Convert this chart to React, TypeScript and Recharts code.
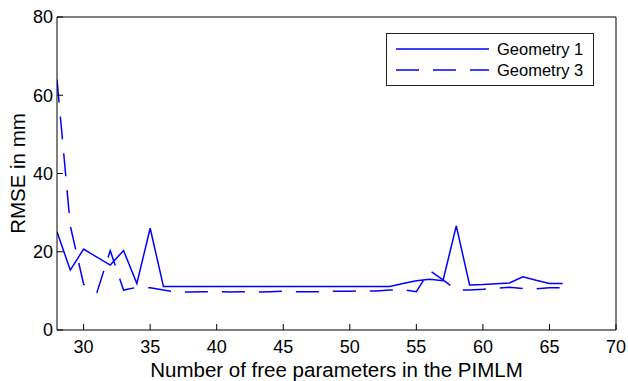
import { LineChart, Line, XAxis, YAxis, Legend } from 'recharts';

// number of free parameters (x) and RMSE in mm for each geometry
const params = [
  28, 29, 30, 31, 32, 33, 34, 35, 36, 37, 38, 39, 40, 41, 42, 43, 44, 45, 46, 47,
  48, 49, 50, 51, 52, 53, 54, 55, 56, 57, 58, 59, 60, 61, 62, 63, 64, 65, 66,
];
const geometry1 = [
  25.1, 15.3, 20.7, 18.6, 16.6, 20.3, 11.9, 26.0, 11.1, 11.1, 11.1, 11.1, 11.1, 11.1, 11.1, 11.1, 11.1, 11.1, 11.1, 11.1,
  11.1, 11.1, 11.1, 11.1, 11.1, 11.1, 11.9, 12.6, 13.0, 12.6, 26.6, 11.5, 11.6, 11.8, 12.0, 13.6, 12.7, 11.9, 11.9,
];
const geometry3 = [
  64.0, 26.6, 11.7, 9.6, 20.3, 10.2, 10.9, 10.8, 10.2, 9.7, 9.7, 9.8, 9.8, 9.7, 9.8, 9.7, 9.8, 9.9, 9.8, 9.8,
  9.8, 9.9, 9.9, 10.0, 10.0, 10.2, 10.3, 9.8, 15.2, 12.8, 10.3, 10.2, 10.4, 10.7, 10.9, 10.6, 10.5, 10.8, 10.8,
];
const xTicks = [30, 35, 40, 45, 50, 55, 60, 65, 70];
const yTicks = [0, 20, 40, 60, 80];

const data = params.map((p, i) => ({ p, g1: geometry1[i], g3: geometry3[i] }));

const font = 'Liberation Sans, Arial, Helvetica, sans-serif';

const YTitle = (props: any) => {
  const vb = props.viewBox || { x: 12, y: 17, width: 45, height: 313 };
  const x = vb.x + 13;
  const y = vb.y + vb.height / 2;
  return (
    <text x={x} y={y} transform={`rotate(-90 ${x} ${y})`} textAnchor="middle" fontSize={20.5} fill="#000">
      RMSE in mm
    </text>
  );
};

const LegendBox = ({ payload }: any) => (
  <div style={{ width: 208, height: 53, border: '1px solid #222', background: '#fff', boxSizing: 'border-box', fontFamily: font }}>
    <svg width={206} height={51}>
      {(payload || []).map((e: any, i: number) => {
        const y = 15 + i * 21;
        return (
          <g key={e.value}>
            <line x1={9} x2={102} y1={y} y2={y} stroke={e.color} strokeWidth={1.5}
              strokeDasharray={e.payload?.strokeDasharray} />
            <text x={110} y={y} dy="0.36em" fontSize={16.5} fill="#000">{e.value}</text>
          </g>
        );
      })}
    </svg>
  </div>
);

export default function App() {
  return (
    <div style={{ position: 'absolute', left: 0, top: 0, background: '#fff' }}>
      <LineChart width={628} height={381} data={data} margin={{ top: 16, right: 11, bottom: 0, left: 12 }}
        style={{ fontFamily: font }}>
        <XAxis dataKey="p" type="number" domain={[28, 70]} ticks={xTicks} allowDataOverflow
          height={51} stroke="#000" tickSize={-6} tickMargin={16} tick={{ fill: '#000', fontSize: 18 }}
          label={{ value: 'Number of free parameters in the PIMLM', position: 'insideBottom', offset: 4, fill: '#000', fontSize: 20.5 }} />
        <XAxis xAxisId="top" orientation="top" dataKey="p" type="number" domain={[28, 70]} ticks={xTicks}
          allowDataOverflow height={1} stroke="#000" tickSize={-6} tick={false} />
        <YAxis type="number" domain={[0, 80]} ticks={yTicks} allowDataOverflow width={45} stroke="#000"
          tickSize={-6} tickMargin={10} tick={{ fill: '#000', fontSize: 18 }} label={<YTitle />} />
        <YAxis yAxisId="right" orientation="right" type="number" domain={[0, 80]} ticks={yTicks}
          allowDataOverflow width={1} stroke="#000" tickSize={-6} tick={false} />
        <Legend layout="vertical" align="center" verticalAlign="middle" content={<LegendBox />}
          wrapperStyle={{ position: 'absolute', left: 386, top: 33, width: 208, height: 53 }} />
        <Line dataKey="g1" name="Geometry 1" stroke="#0000ff" strokeWidth={1.5} dot={false}
          isAnimationActive={false} type="linear" />
        <Line dataKey="g3" name="Geometry 3" stroke="#0000ff" strokeWidth={1.5} strokeDasharray="23 14"
          dot={false} isAnimationActive={false} type="linear" />
      </LineChart>
    </div>
  );
}
